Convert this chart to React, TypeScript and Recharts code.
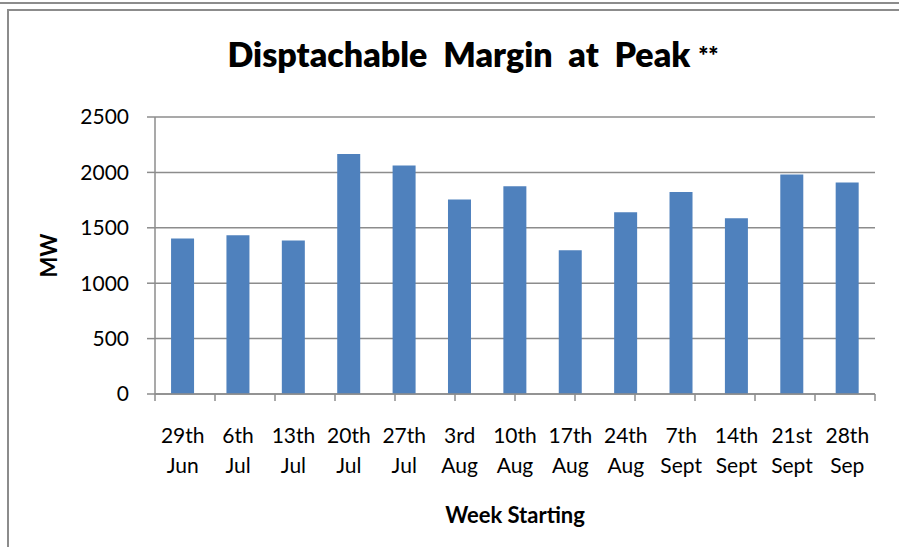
import { BarChart, Bar, XAxis, YAxis, CartesianGrid } from "recharts";

const weeks = [
  "29th Jun", "6th Jul", "13th Jul", "20th Jul", "27th Jul", "3rd Aug", "10th Aug",
  "17th Aug", "24th Aug", "7th Sept", "14th Sept", "21st Sept", "28th Sep",
];
const margin = [1403, 1432, 1385, 2165, 2063, 1755, 1875, 1298, 1641, 1824, 1587, 1981, 1909];
const yTicks = [0, 500, 1000, 1500, 2000, 2500];
const boundaryTicks = [0, 1, 2, 3, 4, 5, 6, 7, 8, 9, 10, 11, 12, 13];

const data = weeks.map((week, i) => ({ week, value: margin[i] }));

const FONT = "Lato, 'Open Sans', sans-serif";
const GRID = "#8c8c8c";

function WeekTick({ x, y, payload }: any) {
  const [a, b] = String(payload.value).split(" ");
  return (
    <text x={x} y={y} textAnchor="middle" fontSize={21} fontFamily={FONT} fill="#000">
      <tspan x={x} dy={48}>{a}</tspan>
      <tspan x={x} dy={30}>{b}</tspan>
    </text>
  );
}

export default function App() {
  return (
    <div style={{ position: "fixed", left: 0, top: 0, width: 899, height: 547, background: "#fff", overflow: "hidden" }}>
      <div style={{ position: "absolute", left: 0, top: 2, width: 899, height: 2, background: GRID }} />
      <div style={{ position: "absolute", left: 7, top: 9, width: 900, height: 600, borderLeft: `2px solid ${GRID}`, borderTop: `2px solid ${GRID}` }} />
      <div
        style={{
          position: "absolute", left: 0, top: 33, width: 946, textAlign: "center",
          fontFamily: FONT, fontWeight: 800, fontSize: 34, color: "#000", whiteSpace: "pre",
        }}
      >
        Disptachable  Margin  at  Peak <span style={{ fontSize: 24, verticalAlign: "3px" }}>**</span>
      </div>
      <div style={{ position: "absolute", left: 0, top: 0 }}>
        <BarChart
          width={899}
          height={547}
          data={data}
          margin={{ top: 117, right: 24, bottom: 0, left: 0 }}
          barCategoryGap="29%"
        >
          <CartesianGrid xAxisId="b" vertical={false} stroke={GRID} strokeWidth={1.5} />
          <XAxis
            xAxisId="a"
            type="number"
            domain={[0, 13]}
            ticks={boundaryTicks}
            height={1}
            interval={0}
            axisLine={{ stroke: GRID, strokeWidth: 1.5 }}
            tickLine={{ stroke: GRID, strokeWidth: 1.5 }}
            tickSize={7}
            tick={() => <g />}
            allowDataOverflow
          />
          <XAxis
            xAxisId="b"
            dataKey="week"
            height={152}
            axisLine={false}
            tickLine={false}
            tickSize={0}
            tickMargin={0}
            interval={0}
            tick={<WeekTick />}
            label={{
              content: ({ viewBox }: any) => (
                <text
                  x={viewBox.x + viewBox.width / 2}
                  y={viewBox.y + 128}
                  textAnchor="middle"
                  fontSize={22}
                  fontWeight={700}
                  fontFamily={FONT}
                  fill="#000"
                >
                  Week Starting
                </text>
              ),
            }}
          />
          <YAxis
            width={155}
            domain={[0, 2500]}
            ticks={yTicks}
            axisLine={{ stroke: GRID, strokeWidth: 1.5 }}
            tickLine={{ stroke: GRID, strokeWidth: 1.5 }}
            tickSize={8}
            tickMargin={18}
            tick={{ fontSize: 21, fontFamily: FONT, fill: "#000" }}
            label={{
              content: ({ viewBox }: any) => {
                const cx = viewBox.x + 48;
                const cy = viewBox.y + viewBox.height / 2;
                return (
                  <text
                    x={cx}
                    y={cy}
                    transform={`rotate(-90 ${cx} ${cy})`}
                    textAnchor="middle"
                    dominantBaseline="central"
                    fontSize={22}
                    fontWeight={700}
                    fontFamily={FONT}
                    fill="#000"
                  >
                    MW
                  </text>
                );
              },
            }}
          />
          <Bar xAxisId="b" dataKey="value" fill="#4F81BD" isAnimationActive={false} />
        </BarChart>
      </div>
    </div>
  );
}
